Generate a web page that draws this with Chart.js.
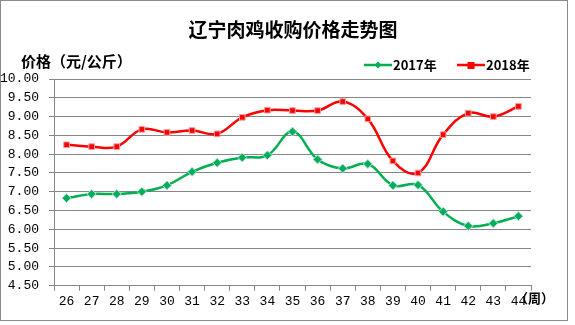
<!DOCTYPE html>
<html>
<head>
<meta charset="utf-8">
<script src="https://cdn.jsdelivr.net/npm/chart.js@4"></script>
<style>
  html, body { margin: 0; padding: 0; background: #fff; }
</style>
</head>
<body>
<canvas id="myChart" width="575" height="325"></canvas>
<script>
const weeks = ['26','27','28','29','30','31','32','33','34','35','36','37','38','39','40','41','42','43','44'];
const prices2017 = [6.83, 6.94, 6.94, 7.00, 7.17, 7.53, 7.77, 7.91, 7.97, 8.60, 7.86, 7.62, 7.74, 7.17, 7.18, 6.47, 6.09, 6.16, 6.35];
const prices2018 = [8.25, 8.20, 8.20, 8.66, 8.58, 8.63, 8.54, 8.98, 9.17, 9.16, 9.16, 9.40, 8.94, 7.82, 7.50, 8.52, 9.09, 9.00, 9.27];

const titleText = '辽宁肉鸡收购价格走势图';
const yTitleText = '价格（元/公斤）';
const xUnitText = '（周）';

const green = '#00B050';
const red = '#FF0000';
const gridGray = '#868686';
const cjk = '"Noto Sans CJK SC", "Noto Sans", sans-serif';
const mono = '"Liberation Mono", "DejaVu Sans Mono", monospace';

// titles, legend, unit label and outer frame
const decorations = {
  id: 'decorations',
  afterDraw(chart) {
    const c = chart.ctx;
    c.save();
    c.strokeStyle = '#8c8c8c';
    c.lineWidth = 1;
    c.strokeRect(0.5, 0.5, 567, 320);

    c.fillStyle = '#000';
    c.textBaseline = 'middle';
    c.font = 'bold 19px ' + cjk;
    c.textAlign = 'center';
    c.fillText(titleText, 293, 30);

    c.font = 'bold 15px ' + cjk;
    c.textAlign = 'left';
    c.fillText(yTitleText, 21, 61);

    // legend
    const items = [
      { x: 364, color: green, style: 'rectRot', label: '2017年' },
      { x: 457, color: red, style: 'rect', label: '2018年' }
    ];
    items.forEach(it => {
      c.strokeStyle = it.color;
      c.lineWidth = 2.5;
      c.beginPath();
      c.moveTo(it.x, 65);
      c.lineTo(it.x + 28, 65);
      c.stroke();
      c.fillStyle = it.color;
      if (it.style === 'rect') {
        c.fillRect(it.x + 10.5, 62, 7, 7);
      } else {
        c.beginPath();
        c.moveTo(it.x + 14, 61.5);
        c.lineTo(it.x + 17.5, 65);
        c.lineTo(it.x + 14, 68.5);
        c.lineTo(it.x + 10.5, 65);
        c.closePath();
        c.fill();
      }
      c.fillStyle = '#000';
      c.font = 'bold 13px ' + cjk;
      c.fillText(it.label, it.x + 29, 65);
    });

    c.font = 'bold 13px ' + cjk;
    c.fillText(xUnitText, 515, 298);
    c.restore();
  }
};

const ctx = document.getElementById('myChart');

new Chart(ctx, {
  type: 'line',
  data: {
    labels: weeks,
    datasets: [{
      label: '2017年',
      data: prices2017,
      borderColor: green,
      backgroundColor: green,
      borderWidth: 2.5,
      pointStyle: 'rectRot',
      pointRadius: 4.5,
      pointBorderColor: '#b8d8f0',
      pointBorderWidth: 1,
      tension: 0.4
    }, {
      label: '2018年',
      data: prices2018,
      borderColor: red,
      backgroundColor: red,
      borderWidth: 2.5,
      pointStyle: 'rect',
      pointRadius: 4,
      pointBorderColor: '#f0a0a0',
      pointBorderWidth: 1,
      tension: 0.4
    }]
  },
  options: {
    responsive: false,
    animation: false,
    devicePixelRatio: 1,
    layout: { padding: { left: 0, top: 79, right: 44, bottom: 0 } },
    plugins: {
      legend: { display: false },
      title: { display: false },
      tooltip: { enabled: false }
    },
    scales: {
      x: {
        offset: true,
        afterFit(scale) { scale.height = 39.3; },
        grid: {
          offset: true,
          drawOnChartArea: false,
          drawTicks: true,
          tickLength: 5,
          color: gridGray
        },
        border: { color: gridGray, width: 1 },
        ticks: {
          color: '#000',
          padding: 3,
          maxRotation: 0,
          autoSkip: false,
          font: { family: mono, size: 13 }
        }
      },
      y: {
        min: 4.5,
        max: 10,
        afterFit(scale) { scale.width = 54; },
        grid: { color: gridGray, tickLength: 5 },
        border: { color: gridGray, width: 1 },
        ticks: {
          stepSize: 0.5,
          color: '#000',
          padding: 10,
          font: { family: mono, size: 13 },
          callback: v => v.toFixed(2)
        }
      }
    }
  },
  plugins: [decorations]
});
</script>
</body>
</html>
